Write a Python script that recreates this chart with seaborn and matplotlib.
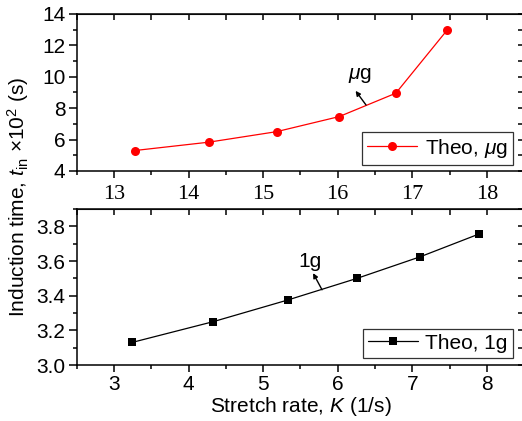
import seaborn as sns
import pandas as pd
import matplotlib
matplotlib.use("Agg")
import matplotlib.pyplot as plt
from matplotlib.ticker import MultipleLocator, FormatStrFormatter

# data
k_micro = [13.28, 14.27, 15.18, 16.02, 16.78, 17.47]
t_micro = [5.30, 5.83, 6.50, 7.46, 8.95, 12.98]
k_one = [3.24, 4.33, 5.33, 6.26, 7.11, 7.89]
t_one = [3.13, 3.25, 3.375, 3.50, 3.625, 3.755]

sns.set_style("ticks")
plt.rcParams["font.family"] = ["Liberation Sans", "DejaVu Sans"]
plt.rcParams["mathtext.fontset"] = "custom"
plt.rcParams["mathtext.rm"] = "Liberation Sans"
plt.rcParams["mathtext.it"] = "Liberation Sans:italic"
plt.rcParams["font.size"] = 15
plt.rcParams["text.color"] = "black"
plt.rcParams["axes.labelcolor"] = "black"
plt.rcParams["xtick.color"] = "black"
plt.rcParams["ytick.color"] = "black"

fig = plt.figure(figsize=(5.22, 4.21), dpi=100)
ax1 = fig.add_axes([0.147, 0.594, 0.857, 0.373])
ax2 = fig.add_axes([0.147, 0.133, 0.857, 0.3705])

df_micro = pd.DataFrame({"K": k_micro, "t": t_micro})
df_one = pd.DataFrame({"K": k_one, "t": t_one})

sns.lineplot(data=df_micro, x="K", y="t", ax=ax1, color="red", marker="o",
             markersize=6.5, markeredgewidth=0, linewidth=0.9,
             label=r"Theo, $\mu$g", sort=False)
sns.lineplot(data=df_one, x="K", y="t", ax=ax2, color="black", marker="s",
             markersize=5.5, markeredgewidth=0, linewidth=0.9,
             label="Theo, 1g", sort=False)

ax1.set_xlim(12.5, 18.5)
ax1.set_ylim(4, 14)
ax1.xaxis.set_major_locator(MultipleLocator(1))
ax1.xaxis.set_minor_locator(MultipleLocator(0.5))
ax1.yaxis.set_major_locator(MultipleLocator(2))
ax1.yaxis.set_minor_locator(MultipleLocator(1))

ax2.set_xlim(2.5, 8.5)
ax2.set_ylim(3.0, 3.9)
ax2.xaxis.set_major_locator(MultipleLocator(1))
ax2.xaxis.set_minor_locator(MultipleLocator(0.5))
ax2.yaxis.set_major_locator(MultipleLocator(0.2))
ax2.yaxis.set_minor_locator(MultipleLocator(0.1))
ax2.yaxis.set_major_formatter(FormatStrFormatter("%.1f"))

for ax in (ax1, ax2):
    for s in ax.spines.values():
        s.set_visible(True)
        s.set_linewidth(1.1)
        s.set_color("black")
    ax.tick_params(which="both", direction="out", top=False, right=False,
                   labelsize=15, width=1.1, color="black")
    ax.tick_params(which="major", length=5)
    ax.tick_params(which="minor", length=3)
    ax.tick_params(axis="y", which="major", length=6, pad=2)
    ax.set_xlabel("")
    ax.set_ylabel("")
    # inward ticks on top and right, unlabeled
    sec = ax.secondary_xaxis("top")
    sec.xaxis.set_major_locator(MultipleLocator(0.5))
    sec.tick_params(direction="in", length=4, width=1.1, labeltop=False)
    secy = ax.secondary_yaxis("right")
    secy.yaxis.set_major_locator(ax.yaxis.get_minor_locator())
    secy.tick_params(direction="in", length=4, width=1.1, labelright=False)

ax1.tick_params(axis="x", pad=5)
for lbl in ax1.get_xticklabels():
    lbl.set_fontfamily("Liberation Serif")
    lbl.set_fontsize(16)
ax2.tick_params(axis="x", pad=2)

leg_kw = dict(loc="lower right", borderaxespad=0, frameon=True,
              fancybox=False, handlelength=2.4, fontsize=15,
              borderpad=0.25, handletextpad=0.35)
leg1 = ax1.legend(bbox_to_anchor=(0.975, 0.038), **leg_kw)
leg2 = ax2.legend(bbox_to_anchor=(0.975, 0.045), **leg_kw)
for leg in (leg1, leg2):
    leg.get_frame().set_edgecolor("black")
    leg.get_frame().set_linewidth(0.9)

arrow = dict(arrowstyle="-|>", color="black", lw=1.0, mutation_scale=7,
             shrinkA=0, shrinkB=0)
ax1.text(16.30, 10.1, r"$\mu$g", ha="center", va="center", fontsize=15)
ax1.annotate("", xy=(16.24, 9.1), xytext=(16.38, 8.2), arrowprops=arrow)
ax2.text(5.63, 3.60, "1g", ha="center", va="center", fontsize=15)
ax2.annotate("", xy=(5.67, 3.53), xytext=(5.79, 3.434), arrowprops=arrow)

ax2.set_xlabel(r"Stretch rate, $K$ (1/s)", fontsize=15, labelpad=1)
fig.text(0.034, 1 - 197 / 421,
         r"Induction time, $t_{\mathrm{in}}$ ×10$^2$ (s)",
         rotation=90, ha="center", va="center", fontsize=15)

fig.savefig("out.png", dpi=100)
